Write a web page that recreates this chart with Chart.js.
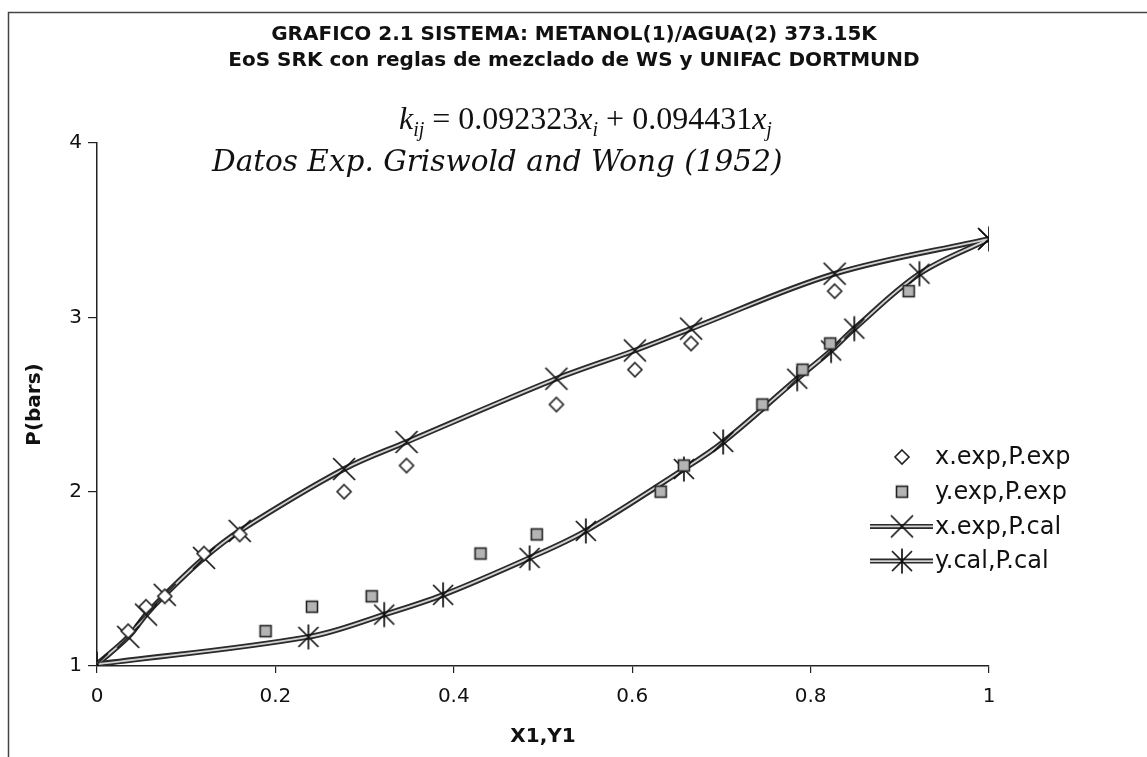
<!DOCTYPE html>
<html>
<head>
<meta charset="utf-8">
<title>Metanol / Agua 373.15K</title>
<script src="https://cdn.jsdelivr.net/npm/chart.js@4.4.1/dist/chart.umd.min.js"></script>
<style>
  html, body { margin: 0; padding: 0; background: #fff; }
  #graficoCanvas { display: block; }
</style>
</head>
<body>
<canvas id="graficoCanvas" width="1147" height="757"></canvas>
<script>
// datos experimentales (Griswold and Wong, 1952)
const xExp = [0.035, 0.055, 0.076, 0.12, 0.16, 0.277, 0.347, 0.515, 0.603, 0.666, 0.827];
const yExp = [0.189, 0.241, 0.308, 0.43, 0.493, 0.632, 0.658, 0.746, 0.791, 0.822, 0.910];
const pExp = [1.2, 1.34, 1.4, 1.645, 1.755, 2.0, 2.15, 2.5, 2.7, 2.85, 3.15];

// calculados con SRK + WS + UNIFAC Dortmund
const xCal = [0, 0.035, 0.055, 0.076, 0.12, 0.16, 0.277, 0.347, 0.515, 0.603, 0.666, 0.827, 1];
const yCal = [0, 0.237, 0.322, 0.388, 0.485, 0.548, 0.658, 0.702, 0.785, 0.823, 0.849, 0.922, 1];
const pCal = [1.01, 1.167, 1.295, 1.408, 1.62, 1.775, 2.13, 2.285, 2.648, 2.81, 2.935, 3.25, 3.45];

const xTicks = [0, 0.2, 0.4, 0.6, 0.8, 1];
const yTicks = [1, 2, 3, 4];

const serieNames = ['x.exp,P.exp', 'y.exp,P.exp', 'x.exp,P.cal', 'y.cal,P.cal'];

function toPoints(xs, ys) {
  return xs.map((x, i) => ({ x: x, y: ys[i] }));
}

// marcadores dibujados a mano
function makeMarker(size, drawFn) {
  const c = document.createElement('canvas');
  c.width = size;
  c.height = size;
  const g = c.getContext('2d');
  g.translate(size / 2, size / 2);
  drawFn(g);
  return c;
}

const markerX = makeMarker(26, g => {
  g.strokeStyle = '#111';
  g.lineWidth = 1.7;
  g.beginPath();
  g.moveTo(-11, -11); g.lineTo(11, 11);
  g.moveTo(11, -11); g.lineTo(-11, 11);
  g.stroke();
});

const markerStar = makeMarker(28, g => {
  g.strokeStyle = '#111';
  g.lineWidth = 1.7;
  g.beginPath();
  g.moveTo(-10, -10); g.lineTo(10, 10);
  g.moveTo(10, -10); g.lineTo(-10, 10);
  g.moveTo(0, -12.5); g.lineTo(0, 12.5);
  g.stroke();
});

const markerDiamond = makeMarker(18, g => {
  g.strokeStyle = '#222';
  g.fillStyle = '#fff';
  g.lineWidth = 1.6;
  g.beginPath();
  g.moveTo(0, -7); g.lineTo(7, 0); g.lineTo(0, 7); g.lineTo(-7, 0);
  g.closePath();
  g.fill();
  g.stroke();
});

const markerSquare = makeMarker(16, g => {
  g.fillStyle = '#b4b4b4';
  g.strokeStyle = '#222';
  g.lineWidth = 1.6;
  g.fillRect(-5.5, -5.5, 11, 11);
  g.strokeRect(-5.5, -5.5, 11, 11);
});

const lineDark = '#2a2a2a';
const lineLight = '#d2d2d2';

const datasets = [
  {
    label: serieNames[0],
    data: toPoints(xExp, pExp),
    pointStyle: markerDiamond,
    pointRadius: 7,
    showLine: false,
    order: 0
  },
  {
    label: serieNames[1],
    data: toPoints(yExp, pExp),
    pointStyle: markerSquare,
    pointRadius: 6,
    showLine: false,
    order: 1
  },
  {
    label: serieNames[2],
    data: toPoints(xCal, pCal),
    showLine: true,
    borderColor: lineLight,
    borderWidth: 1.8,
    tension: 0.35,
    pointStyle: markerX,
    pointRadius: 12,
    order: 2
  },
  {
    label: serieNames[3],
    data: toPoints(yCal, pCal),
    showLine: true,
    borderColor: lineLight,
    borderWidth: 1.8,
    tension: 0.35,
    pointStyle: markerStar,
    pointRadius: 12,
    order: 3
  },
  // trazo oscuro debajo de cada curva (linea doble)
  {
    label: 'fondo-x',
    data: toPoints(xCal, pCal),
    showLine: true,
    borderColor: lineDark,
    borderWidth: 5.5,
    tension: 0.35,
    pointRadius: 0,
    order: 4
  },
  {
    label: 'fondo-y',
    data: toPoints(yCal, pCal),
    showLine: true,
    borderColor: lineDark,
    borderWidth: 5.5,
    tension: 0.35,
    pointRadius: 0,
    order: 5
  }
];

// marco exterior, solo arriba e izquierda
const marcoPlugin = {
  id: 'marco',
  beforeDraw(chart) {
    const c = chart.ctx;
    c.save();
    c.fillStyle = '#fff';
    c.fillRect(0, 0, chart.width, chart.height);
    c.strokeStyle = '#444';
    c.lineWidth = 1.5;
    c.beginPath();
    c.moveTo(8.5, chart.height);
    c.lineTo(8.5, 12.5);
    c.lineTo(chart.width, 12.5);
    c.stroke();
    c.restore();
  }
};

// titulo, ecuacion de kij y nota de datos
const encabezadoPlugin = {
  id: 'encabezado',
  afterDraw(chart) {
    const c = chart.ctx;
    c.save();
    c.fillStyle = '#111';
    c.textBaseline = 'alphabetic';
    c.textAlign = 'center';
    c.font = 'bold 20px "DejaVu Sans", Verdana, sans-serif';
    c.fillText('GRAFICO 2.1 SISTEMA: METANOL(1)/AGUA(2) 373.15K', 574, 40);
    c.fillText('EoS SRK con reglas de mezclado de WS y UNIFAC DORTMUND', 574, 66);

    // k_ij = 0.092323 x_i + 0.094431 x_j
    const big = '32px "Liberation Serif", serif';
    const bigIt = 'italic 32px "Liberation Serif", serif';
    const sub = 'italic 20px "Liberation Serif", serif';
    const partes = [
      { t: 'k', f: bigIt, dy: 0 },
      { t: 'ij', f: sub, dy: 7 },
      { t: ' = 0.092323', f: big, dy: 0 },
      { t: 'x', f: bigIt, dy: 0 },
      { t: 'i', f: sub, dy: 7 },
      { t: ' + 0.094431', f: big, dy: 0 },
      { t: 'x', f: bigIt, dy: 0 },
      { t: 'j', f: sub, dy: 7 }
    ];
    c.textAlign = 'left';
    let xPos = 399;
    partes.forEach(p => {
      c.font = p.f;
      c.fillText(p.t, xPos, 129 + p.dy);
      xPos += c.measureText(p.t).width;
    });

    c.font = 'italic 29.5px "DejaVu Serif", serif';
    c.fillText('Datos Exp. Griswold and Wong (1952)', 212, 171);
    c.restore();
  }
};

// leyenda dentro del area de trazado
const leyendaPlugin = {
  id: 'leyenda',
  afterDraw(chart) {
    const c = chart.ctx;
    const filas = [
      { name: serieNames[0], marker: markerDiamond, line: false },
      { name: serieNames[1], marker: markerSquare, line: false },
      { name: serieNames[2], marker: markerX, line: true },
      { name: serieNames[3], marker: markerStar, line: true }
    ];
    c.save();
    c.font = '24px "DejaVu Sans", Verdana, sans-serif';
    c.fillStyle = '#111';
    c.textBaseline = 'middle';
    c.textAlign = 'left';
    filas.forEach((f, i) => {
      const y = 457 + i * 34.7;
      if (f.line) {
        c.lineCap = 'butt';
        c.strokeStyle = lineDark;
        c.lineWidth = 5;
        c.beginPath(); c.moveTo(870, y); c.lineTo(933, y); c.stroke();
        c.strokeStyle = lineLight;
        c.lineWidth = 1.6;
        c.beginPath(); c.moveTo(870, y); c.lineTo(933, y); c.stroke();
      }
      c.drawImage(f.marker, 902 - f.marker.width / 2, y - f.marker.height / 2);
      c.fillText(f.name, 935, y + 1);
    });
    c.restore();
  }
};

const ctx = document.getElementById('graficoCanvas').getContext('2d');

const chart = new Chart(ctx, {
  type: 'scatter',
  data: { datasets },
  options: {
    responsive: false,
    animation: false,
    layout: { padding: { top: 143, right: 158, left: 0, bottom: 0 } },
    plugins: {
      legend: { display: false },
      tooltip: { enabled: false }
    },
    scales: {
      x: {
        type: 'linear',
        min: 0,
        max: 1,
        afterBuildTicks: scale => { scale.ticks = xTicks.map(v => ({ value: v })); },
        afterFit: scale => { scale.height = 91; },
        border: { color: '#222', width: 1.5 },
        grid: { drawOnChartArea: false, drawTicks: true, tickLength: 7, color: '#222', lineWidth: 1.2 },
        ticks: {
          color: '#111',
          padding: 12,
          maxRotation: 0,
          callback: v => String(v),
          font: { family: '"DejaVu Sans", Verdana, sans-serif', size: 20 }
        },
        title: {
          display: true,
          text: 'X1,Y1',
          color: '#111',
          padding: { top: 0, bottom: 8 },
          font: { family: '"DejaVu Sans", Verdana, sans-serif', size: 20, weight: 'bold' }
        }
      },
      y: {
        type: 'linear',
        min: 1,
        max: 4,
        afterBuildTicks: scale => { scale.ticks = yTicks.map(v => ({ value: v })); },
        afterFit: scale => { scale.width = 97; },
        border: { color: '#222', width: 1.5 },
        grid: { drawOnChartArea: false, drawTicks: true, tickLength: 9, color: '#222', lineWidth: 1.2 },
        ticks: {
          color: '#111',
          padding: 6,
          callback: v => String(v),
          font: { family: '"DejaVu Sans", Verdana, sans-serif', size: 20 }
        },
        title: {
          display: true,
          text: 'P(bars)',
          color: '#111',
          padding: { top: 23, bottom: 0 },
          font: { family: '"DejaVu Sans", Verdana, sans-serif', size: 20, weight: 'bold' }
        }
      }
    }
  },
  plugins: [marcoPlugin, encabezadoPlugin, leyendaPlugin]
});
</script>
</body>
</html>
